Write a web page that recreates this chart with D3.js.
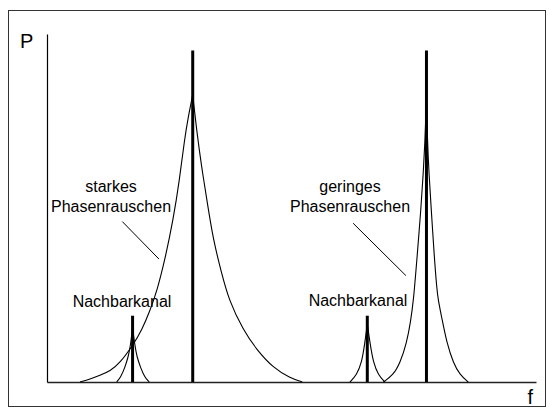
<!DOCTYPE html>
<html>
<head>
<meta charset="utf-8">
<script src="https://cdn.jsdelivr.net/npm/d3@7"></script>
<style>
  html, body { margin: 0; padding: 0; background: #fff; }
  svg { display: block; }
  text { font-family: "Liberation Sans", Arial, sans-serif; fill: #000; }
</style>
</head>
<body>
<svg id="chart" width="550" height="414"></svg>
<script>
// ---- data (frequency f in arbitrary units, power P in % of carrier) ----
const carrierF = [29.8, 77.6];
const carrierP = [100, 100];
const neighbourF = [17.5, 65.5];
const neighbourP = [20, 20];

// strong phase noise around carrier 1 (left / right flank)
const strongLeft = [[6.75,0],[8.8,0.9],[10.8,2.0],[12.9,3.3],[14.9,5.7],[17.6,11.2],[19.4,15.7],[21.1,21.7],[22.5,27.5],[24.1,36.8],[25.8,48.9],[27.1,61.0],[28.1,73.0],[28.9,80.1],[29.6,85.2],[29.8,86.7]];
const strongRight = [[29.8,86.7],[29.9,85.2],[30.6,76.0],[31.6,65.0],[32.7,54.9],[34.0,42.8],[35.7,32.9],[37.2,24.7],[40.1,15.7],[42.9,9.7],[46.3,4.2],[49.7,1.2],[52.2,0]];

// neighbour channel 1 spectrum
const neigh1Left = [[14.25,0],[15.1,1.5],[15.95,4.5],[16.6,7.5],[17.1,11.2],[17.5,16.5]];
const neigh1Right = [[17.5,16.5],[17.95,11.2],[18.4,7.5],[19.1,4.5],[19.95,1.5],[20.9,0]];

// neighbour channel 2 spectrum
const neigh2Left = [[61.95,0],[63.3,2.1],[64.35,5.7],[65.0,11.8],[65.5,17.5]];
const neigh2Right = [[65.5,17.5],[66.05,11.8],[66.75,5.7],[67.75,2.1],[69.1,0]];

// low phase noise around carrier 2
const weakLeft = [[68.8,0],[70.8,2.1],[72.2,5.7],[73.55,11.8],[74.35,18.1],[74.95,24.7],[75.55,35.3],[76.5,52.8],[76.95,63.1],[77.3,73.0],[77.55,83.0],[77.6,85.8]];
const weakRight = [[77.6,85.8],[77.8,73.0],[78.1,63.1],[78.55,52.8],[79.2,37.7],[79.7,28.4],[80.0,24.7],[80.7,19.6],[81.75,11.8],[83.1,5.7],[84.45,2.1],[86.15,0]];

// pointer lines of the annotations [f, P] -> [f, P]
const pointerStrong = [[15.4,48.4],[22.9,37.1]];
const pointerWeak = [[62.6,47.9],[73.4,32.1]];

const axisLabels = ["P", "f"];

// ---- drawing ----
const svg = d3.select("#chart");

// outer frame
svg.append("rect")
  .attr("x", 8.5).attr("y", 10.5)
  .attr("width", 537).attr("height", 396)
  .attr("fill", "none").attr("stroke", "#333").attr("stroke-width", 1);

const x = d3.scaleLinear().domain([0, 100]).range([47, 536]);
const y = d3.scaleLinear().domain([0, 105]).range([382, 34]);

// axes (domain lines only)
svg.append("g")
  .attr("transform", `translate(0,${y(0)})`)
  .call(d3.axisBottom(x).tickValues([]).tickSizeOuter(0))
  .call(g => g.select(".domain").attr("stroke", "#222").attr("stroke-width", 1.3));

svg.append("g")
  .attr("transform", `translate(${x(0)},0)`)
  .call(d3.axisLeft(y).tickValues([]).tickSizeOuter(0))
  .call(g => g.select(".domain").attr("stroke", "#000").attr("stroke-width", 1.2));

// axis letters
svg.append("text").attr("x", 20).attr("y", 47.5)
  .attr("font-size", 20).text(axisLabels[0]);
svg.append("text").attr("x", 527.5).attr("y", 403.5)
  .attr("font-size", 20).text(axisLabels[1]);

// noise curves
const line = d3.line()
  .x(d => x(d[0])).y(d => y(d[1]))
  .curve(d3.curveBasis);

const curves = [strongLeft, strongRight, neigh1Left, neigh1Right, neigh2Left, neigh2Right, weakLeft, weakRight];
svg.append("g").selectAll("path")
  .data(curves)
  .join("path")
  .attr("d", line)
  .attr("fill", "none")
  .attr("stroke", "#000")
  .attr("stroke-width", 1.1);

// carriers
svg.append("g").selectAll("line")
  .data(carrierF.map((f, i) => [f, carrierP[i]]))
  .join("line")
  .attr("x1", d => x(d[0])).attr("x2", d => x(d[0]))
  .attr("y1", y(0)).attr("y2", d => y(d[1]))
  .attr("stroke", "#000").attr("stroke-width", 3);

// neighbour channels
svg.append("g").selectAll("line")
  .data(neighbourF.map((f, i) => [f, neighbourP[i]]))
  .join("line")
  .attr("x1", d => x(d[0])).attr("x2", d => x(d[0]))
  .attr("y1", y(0)).attr("y2", d => y(d[1]))
  .attr("stroke", "#000").attr("stroke-width", 3);

// pointer lines
svg.append("g").selectAll("line")
  .data([pointerStrong, pointerWeak])
  .join("line")
  .attr("x1", d => x(d[0][0])).attr("y1", d => y(d[0][1]))
  .attr("x2", d => x(d[1][0])).attr("y2", d => y(d[1][1]))
  .attr("stroke", "#000").attr("stroke-width", 1);

// labels
const labels = [
  {t: "starkes", x: 111, y: 192},
  {t: "Phasenrauschen", x: 111, y: 212},
  {t: "Nachbarkanal", x: 122, y: 306.5},
  {t: "geringes", x: 350, y: 192},
  {t: "Phasenrauschen", x: 350, y: 212},
  {t: "Nachbarkanal", x: 358, y: 306}
];
svg.append("g").selectAll("text")
  .data(labels)
  .join("text")
  .attr("x", d => d.x).attr("y", d => d.y)
  .attr("text-anchor", "middle")
  .attr("font-size", 16)
  .text(d => d.t);
</script>
</body>
</html>
